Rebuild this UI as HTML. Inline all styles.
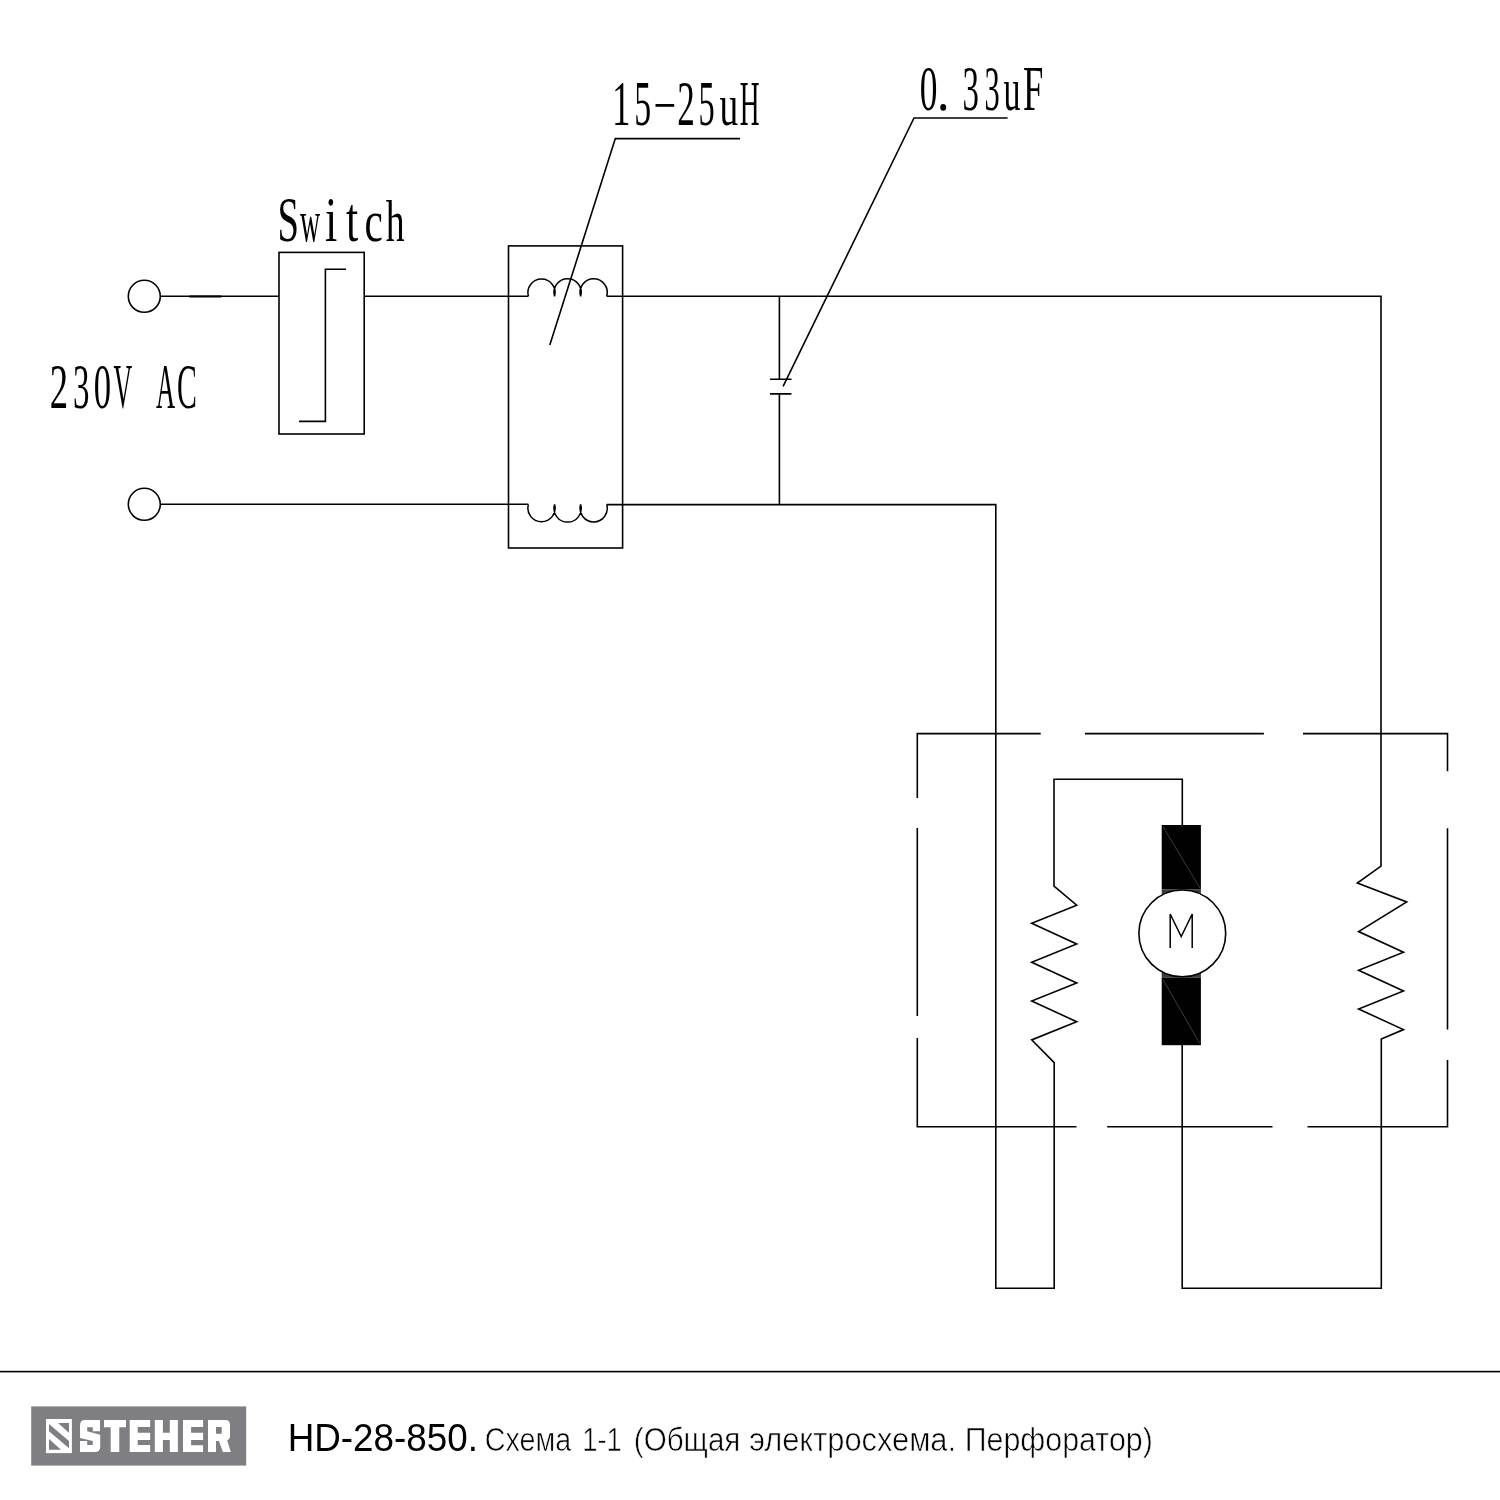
<!DOCTYPE html>
<html><head><meta charset="utf-8">
<style>
html,body{margin:0;padding:0;background:#fff;width:1500px;height:1500px;overflow:hidden}
svg{display:block;opacity:0.999}
.ln{stroke:#000;stroke-width:1.6;fill:none;stroke-linecap:butt;stroke-linejoin:miter}
.lbl{opacity:0.999}
.lbl text{font-family:"Liberation Serif",serif;font-size:100px;fill:#000}
</style></head><body>
<svg width="1500" height="1500" viewBox="0 0 1500 1500">
<rect x="0" y="0" width="1500" height="1500" fill="#fff"/>
<g class="ln">
  <!-- terminals -->
  <circle cx="144.3" cy="296.3" r="16"/>
  <circle cx="144.3" cy="504.3" r="16"/>
  <!-- top wire: terminal to switch -->
  <path d="M160.3 296.3 H279"/>
  <path d="M190 296.5 H221" stroke-width="1.9" stroke-linecap="round"/>
  <!-- switch box -->
  <rect x="279" y="252.4" width="85.2" height="181.6"/>
  <path d="M346 269.2 H325.4 V421.4 H299"/>
  <!-- wire switch -> inductor -->
  <path d="M364.2 296.3 H528.4"/>
  <!-- inductor box -->
  <rect x="508.5" y="245.9" width="114.1" height="302.1"/>
  <!-- top coil -->
  <path d="M528.4 296.3 A13.6 13.6 0 1 1 554.6 296.3 M554.6 296.3 A13.6 13.6 0 1 1 580.6 296.3 M580.6 296.3 A13.6 13.6 0 1 1 606.7 296.3" stroke-width="1.5"/>
  <!-- bottom coil -->
  <path d="M528.4 504.5 A13.6 13.6 0 1 0 554.6 504.5 M554.6 504.5 A13.6 13.6 0 1 0 580.6 504.5 M580.6 504.5 A13.6 13.6 0 1 0 606.7 504.5" stroke-width="1.5"/>
  <!-- top wire from inductor to right -->
  <path d="M606.7 296.3 H1381 V866.1 L1357.3 883 L1406.7 901.9 L1358.6 931.6 L1403.5 952.2 L1358.6 970.2 L1403.5 991 L1358.6 1009 L1403.5 1029.6 L1381.3 1039 V1288.2 H1182.2 V1045"/>
  <!-- bottom wire -->
  <path d="M160.3 504.3 H528.4"/>
  <path d="M606.7 504.6 H995.8 V1288.2 H1054.2 V1062.6 L1031.7 1039.9 L1076.7 1021.7 L1031.7 1001 L1076.7 982.9 L1031.7 962.3 L1076.7 944 L1031.7 923.3 L1076.7 905.2 L1054 886.1 V779.3 H1182.3 V825"/>
  <!-- capacitor -->
  <path d="M779.4 296.3 V379.2 M770 379.2 H791.5 M770 393.9 H791.5 M779.4 393.9 V504.6"/>
  <!-- leaders -->
  <path d="M740 138.6 H615.3 L549.8 345"/>
  <path d="M1007.6 118 H914 L783.1 386.4"/>
  <!-- dashed box -->
  <path d="M917.3 798 V733.6 H1040.7 M1085 733.6 H1263.9 M1303 733.6 H1447.5 V771.2 M1447.5 828.3 V1029.5 M1447.5 1060 V1126.7 H1307.5 M1272.5 1126.7 H1107.2 M1076.5 1126.7 H917.3 V1037.9 M917.3 1016 V828"/>
</g>
<!-- motor -->
<rect x="1161.7" y="825" width="39.2" height="64.2" fill="#000"/>
<rect x="1161.7" y="889.2" width="39.2" height="6" fill="#3c3c3c"/>
<rect x="1161.7" y="971" width="39.2" height="6.5" fill="#3c3c3c"/>
<rect x="1161.7" y="977.5" width="39.2" height="67.7" fill="#000"/>
<path d="M1163 826.7 L1199.8 887.9 M1163 979.6 L1199.8 1043.5" stroke="#666" stroke-width="0.6" fill="none"/>
<circle cx="1182.3" cy="933.4" r="43.4" fill="#fff" stroke="#000" stroke-width="1.6"/>
<path d="M1170.2 948 V914 L1181.2 936.5 L1192.2 914 V948" fill="none" stroke="#000" stroke-width="1.5"/>
<!-- labels -->
<g class="lbl">
<text transform="translate(277.42,241.00) scale(0.3862,0.6254)">S</text>
<text transform="translate(299.97,241.00) scale(0.2790,0.5879)">w</text>
<text transform="translate(325.07,241.00) scale(0.4416,0.6254)">i</text>
<text transform="translate(346.07,241.00) scale(0.4386,0.6254)">t</text>
<text transform="translate(364.43,241.00) scale(0.4133,0.5879)">c</text>
<text transform="translate(385.63,241.00) scale(0.3773,0.5848)">h</text>
<text transform="translate(49.69,407.70) scale(0.3667,0.6242)">2</text>
<text transform="translate(73.02,407.70) scale(0.3292,0.6242)">3</text>
<text transform="translate(93.68,407.70) scale(0.3468,0.6242)">0</text>
<text transform="translate(113.41,407.70) scale(0.2587,0.6242)">V</text>
<text transform="translate(155.94,407.70) scale(0.2652,0.6242)">A</text>
<text transform="translate(177.08,407.70) scale(0.2978,0.6242)">C</text>
<text transform="translate(612.05,124.70) scale(0.3693,0.6257)">1</text>
<text transform="translate(634.34,124.70) scale(0.3376,0.6257)">5</text>
<text transform="translate(677.25,124.70) scale(0.3517,0.6257)">2</text>
<text transform="translate(698.42,124.70) scale(0.3227,0.6257)">5</text>
<text transform="translate(719.61,124.70) scale(0.3747,0.5882)">u</text>
<text transform="translate(739.71,124.70) scale(0.2741,0.6257)">H</text>
<text transform="translate(919.65,110.00) scale(0.3539,0.6412)">0</text>
<text transform="translate(962.42,110.00) scale(0.3292,0.6412)">3</text>
<text transform="translate(984.54,110.00) scale(0.3050,0.6412)">3</text>
<text transform="translate(1003.55,110.00) scale(0.3406,0.6027)">u</text>
<text transform="translate(1022.94,110.00) scale(0.3664,0.6412)">F</text>
<rect x="655.5" y="104" width="18.7" height="2.8" fill="#000"/>
<ellipse cx="943.2" cy="107.4" rx="2.9" ry="3.3" fill="#000"/>
</g>
<!-- footer separator -->
<rect x="0" y="1370.8" width="1500" height="1.6" fill="#000"/>
<!-- logo -->
<rect x="31.2" y="1406.4" width="215" height="59.2" fill="#7f7e83"/>
<path fill="#fff" d="M46 1419 H71.9 V1453.1 H46 Z"/>
<path fill="#7f7e83" d="M58 1423 H69 V1432.7 Z M49 1424 L69 1441 V1448.3 L49 1431.3 Z M49 1439 V1449.7 H61 Z"/>
<g fill="#fff">
<path d="M85.3 1420 H100 V1431.2 H92.8 V1427.2 H87.2 V1431.2 L100.2 1434.7 V1446.7 Q100.2 1452 94.7 1452 H80 V1441.1 H87.2 V1445.1 H92.8 V1441.1 L80 1437.9 V1425.3 Q80 1420 85.3 1420 Z"/>
<path d="M104 1420 H126 V1427.2 H119.3 V1452 H110.7 V1427.2 H104 Z"/>
<path d="M129.7 1420 H150.2 V1427.1 H137.7 V1432.8 H150.2 V1439.9 H137.7 V1444.9 H150.2 V1452 H129.7 Z"/>
<path d="M154.8 1420 H162.9 V1432.7 H169.8 V1420 H177.9 V1452 H169.8 V1439.9 H162.9 V1452 H154.8 Z"/>
<path d="M183 1420 H203.1 V1427.1 H191.1 V1432.7 H203.1 V1439.9 H191.1 V1445.2 H203.1 V1452 H183 Z"/>
<path fill-rule="evenodd" d="M208 1420.1 H225.3 Q230 1420.1 230 1424.8 V1436.5 Q230 1439 227.2 1440.5 L230.9 1451.9 H222.9 L218.9 1440.9 H216 V1451.9 H208 Z M216 1427.1 H221.7 V1433.7 H216 Z"/>
</g>
<!-- footer text -->
<g style="will-change:transform" font-family="Liberation Sans" fill="#000">
<text transform="translate(287.68,1451) scale(0.9592,1)" font-size="38.4" >HD-28-850.</text>
<text transform="translate(484.84,1451) scale(0.8690,1)" font-size="33" stroke="#fff" stroke-width="0.6">Схема</text>
<text transform="translate(582.21,1451) scale(0.8308,1)" font-size="33" stroke="#fff" stroke-width="0.6">1-1</text>
<text transform="translate(633.87,1451) scale(0.8953,1)" font-size="33" stroke="#fff" stroke-width="0.6">(Общая</text>
<text transform="translate(749.17,1451) scale(0.9342,1)" font-size="33" stroke="#fff" stroke-width="0.6">электросхема.</text>
<text transform="translate(964.74,1451) scale(0.9207,1)" font-size="33" stroke="#fff" stroke-width="0.6">Перфоратор)</text>
</g>
</svg>
</body></html>
